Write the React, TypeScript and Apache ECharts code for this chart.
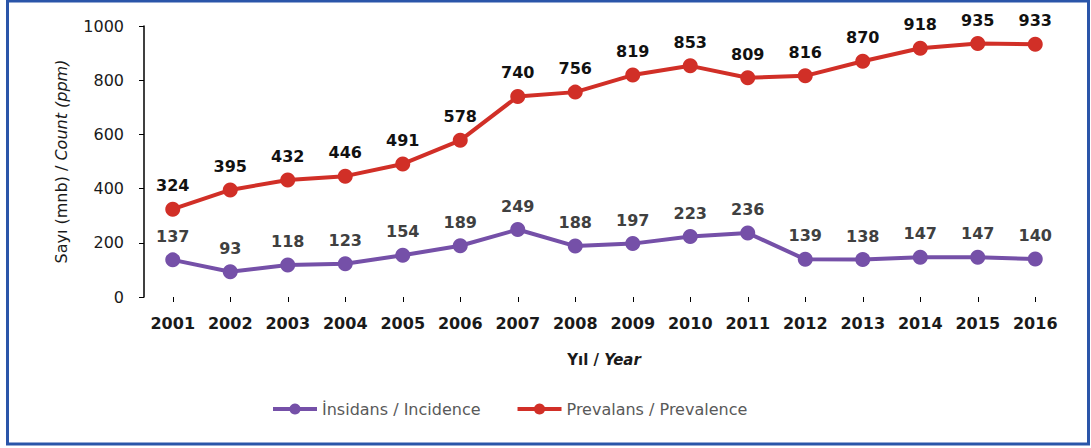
import React, { useEffect, useRef } from "react";
import * as echarts from "echarts";

const years = ["2001","2002","2003","2004","2005","2006","2007","2008","2009","2010","2011","2012","2013","2014","2015","2016"];
const incidence = [137,93,118,123,154,189,249,188,197,223,236,139,138,147,147,140];
const prevalence = [324,395,432,446,491,578,740,756,819,853,809,816,870,918,935,933];
const seriesNames = ["İnsidans / Incidence", "Prevalans / Prevalence"];

const FONT = "'DejaVu Sans', 'Open Sans', sans-serif";

export default function App() {
  const ref = useRef<HTMLDivElement>(null);
  useEffect(() => {
    if (!ref.current) return;
    const chart = echarts.init(ref.current, null, { renderer: "svg" });
    chart.setOption({
      animation: false,
      backgroundColor: "#ffffff",
      textStyle: { fontFamily: FONT },
      graphic: [
        {
          type: "rect",
          shape: { x: 7.5, y: 1, width: 1081, height: 443 },
          style: { fill: "none", stroke: "#2a55a9", lineWidth: 3 },
          silent: true,
        },
      ],
      grid: { left: 144, right: 27, top: 26, bottom: 151, containLabel: false },
      legend: {
        data: seriesNames,
        bottom: 26,
        left: 266,
        itemWidth: 44,
        itemHeight: 14,
        itemGap: 35,
        lineStyle: { width: 4 },
        textStyle: { color: "#595959", fontSize: 16, fontFamily: FONT },
      },
      xAxis: {
        type: "category",
        data: years,
        boundaryGap: true,
        axisLine: { show: false },
        axisTick: { show: true, alignWithLabel: true, length: 5, lineStyle: { color: "#000" } },
        axisLabel: { color: "#1a1a1a", fontSize: 16, fontWeight: "bold", margin: 18, fontFamily: FONT, interval: 0 },
        name: "{a|Yıl / }{b|Year}",
        nameLocation: "middle",
        nameGap: 55,
        nameTextStyle: {
          rich: {
            a: { fontSize: 15, fontWeight: "bold", color: "#1a1a1a", fontFamily: FONT },
            b: { fontSize: 15, fontWeight: "bold", fontStyle: "italic", color: "#1a1a1a", fontFamily: FONT },
          },
        },
      },
      yAxis: {
        type: "value",
        min: 0,
        max: 1000,
        interval: 200,
        splitLine: { show: false },
        axisLine: { show: true, lineStyle: { color: "#000", width: 1.5 } },
        axisTick: { show: true, length: 5, lineStyle: { color: "#000" } },
        axisLabel: { color: "#1a1a1a", fontSize: 16, margin: 20, fontFamily: FONT, formatter: (v: number) => String(v) },
        name: "{a|Sayı (mnb) / }{b|Count (ppm)}",
        nameLocation: "middle",
        nameGap: 75,
        nameTextStyle: {
          rich: {
            a: { fontSize: 16, color: "#1a1a1a", fontFamily: FONT },
            b: { fontSize: 16, fontStyle: "italic", color: "#1a1a1a", fontFamily: FONT },
          },
        },
      },
      series: [
        {
          name: seriesNames[0],
          type: "line",
          data: incidence,
          symbol: "circle",
          symbolSize: 15,
          itemStyle: { color: "#7550a8" },
          lineStyle: { color: "#7550a8", width: 4 },
          label: { show: true, position: "top", distance: 8, color: "#404040", fontWeight: "bold", fontSize: 16, fontFamily: FONT },
        },
        {
          name: seriesNames[1],
          type: "line",
          data: prevalence,
          symbol: "circle",
          symbolSize: 15,
          itemStyle: { color: "#d12f27" },
          lineStyle: { color: "#d12f27", width: 4 },
          label: { show: true, position: "top", distance: 8, color: "#111111", fontWeight: "bold", fontSize: 16, fontFamily: FONT },
        },
      ],
    });
    return () => chart.dispose();
  }, []);
  return <div ref={ref} style={{ position: "fixed", left: 0, top: 0, width: 1091, height: 448 }} />;
}
